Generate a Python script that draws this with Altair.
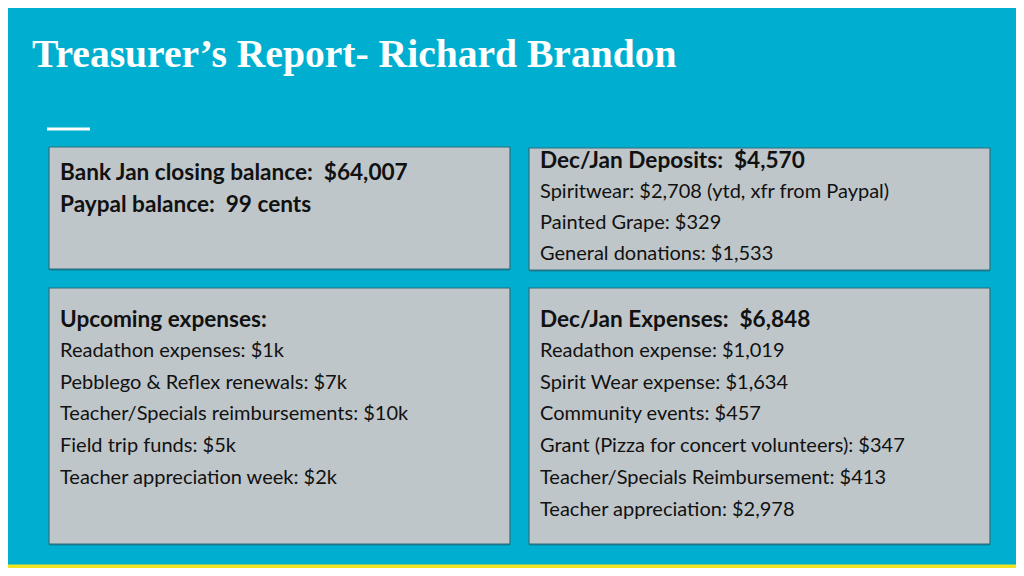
import altair as alt
import pandas as pd

# ---- content ----
title = "Treasurer’s Report- Richard Brandon"

box1_bold = ["Bank Jan closing balance:\u00a0 $64,007", "Paypal balance:\u00a0 99 cents"]
box2_head = "Dec/Jan Deposits:\u00a0 $4,570"
box2_items = ["Spiritwear: $2,708 (ytd, xfr from Paypal)", "Painted Grape: $329",
              "General donations: $1,533"]
box3_head = "Upcoming expenses:"
box3_items = ["Readathon expenses: $1k", "Pebblego & Reflex renewals: $7k",
              "Teacher/Specials reimbursements: $10k", "Field trip funds: $5k",
              "Teacher appreciation week: $2k"]
box4_head = "Dec/Jan Expenses:\u00a0 $6,848"
box4_items = ["Readathon expense: $1,019", "Spirit Wear expense: $1,634",
              "Community events: $457", "Grant (Pizza for concert volunteers): $347",
              "Teacher/Specials Reimbursement: $413", "Teacher appreciation: $2,978"]

# ---- layout (page pixel coordinates) ----
BLUE = "#00AFD0"
BOX_FILL = "#BFC6C9"
BOX_STROKE = "#2B6E7E"
YELLOW = "#F4E524"
DARK = "#111111"
FONT = "Lato"
BOLD_SIZE = 22.6
REG_SIZE = 20

boxes = pd.DataFrame({
    "x": [49, 529, 49, 529], "x2": [510, 990, 510, 990],
    "y": [147, 148, 288, 288], "y2": [269, 270, 544, 544],
})

line_h = 31.7
bold_rows, reg_rows = [], []
for i, t in enumerate(box1_bold):
    bold_rows.append({"x": 60, "y": 180 + i * line_h, "t": t})
bold_rows.append({"x": 540, "y": 168.3, "t": box2_head})
for i, t in enumerate(box2_items):
    reg_rows.append({"x": 540, "y": 198.3 + i * 30.9, "t": t})
bold_rows.append({"x": 60, "y": 327, "t": box3_head})
for i, t in enumerate(box3_items):
    reg_rows.append({"x": 60, "y": 357 + i * line_h, "t": t})
bold_rows.append({"x": 540, "y": 327, "t": box4_head})
for i, t in enumerate(box4_items):
    reg_rows.append({"x": 540, "y": 357 + i * line_h, "t": t})

bold_df = pd.DataFrame(bold_rows)
reg_df = pd.DataFrame(reg_rows)

# chart sits at page offset (8, 8); body content area is 1008 x 560
W, H = 1008, 560
xs = alt.Scale(domain=[8, 8 + W], nice=False, zero=False)
ys = alt.Scale(domain=[8, 8 + H], nice=False, zero=False, reverse=True)

def X(f="x"):
    return alt.X(f"{f}:Q", scale=xs, axis=None)

def Y(f="y"):
    return alt.Y(f"{f}:Q", scale=ys, axis=None)

shadow = alt.Chart(boxes).mark_rect(fill="#1F5866", opacity=0.55).encode(
    x=X(), x2="x2:Q", y=Y(), y2="y2:Q",
).transform_calculate(y="datum.y + 2", y2="datum.y2 + 1.6")

rects = alt.Chart(boxes).mark_rect(fill=BOX_FILL, stroke=BOX_STROKE, strokeWidth=1.2).encode(
    x=X(), x2="x2:Q", y=Y(), y2="y2:Q")

band = alt.Chart(pd.DataFrame({"x": [8], "x2": [1024], "y": [564.5], "y2": [576]})).mark_rect(
    fill=YELLOW, clip=True).encode(x=X(), x2="x2:Q", y=Y(), y2="y2:Q")

accent = alt.Chart(pd.DataFrame({"x": [47], "x2": [90], "y": [127.5], "y2": [130.5]})).mark_rect(
    fill="white").encode(x=X(), x2="x2:Q", y=Y(), y2="y2:Q")

title_layer = alt.Chart(pd.DataFrame({"x": [32], "y": [66.5], "t": [title]})).mark_text(
    font="Liberation Serif", fontWeight="bold", fontSize=39.6, color="white",
    align="left", baseline="alphabetic").encode(x=X(), y=Y(), text="t:N")

bold_layer = alt.Chart(bold_df).mark_text(
    font=FONT, fontWeight="bold", fontSize=BOLD_SIZE, color=DARK, align="left",
    baseline="alphabetic").encode(x=X(), y=Y(), text="t:N")

reg_layer = alt.Chart(reg_df).mark_text(
    font=FONT, fontSize=REG_SIZE, color=DARK, align="left", baseline="alphabetic").encode(
    x=X(), y=Y(), text="t:N")

chart = alt.layer(shadow, rects, band, accent, title_layer, bold_layer, reg_layer).properties(
    width=W, height=H, background=BLUE, padding=0,
    autosize=alt.AutoSizeParams(type="none"),
).configure_view(stroke=None, strokeWidth=0)

chart.save("out.html", embed_options={"renderer": "svg", "actions": False})
